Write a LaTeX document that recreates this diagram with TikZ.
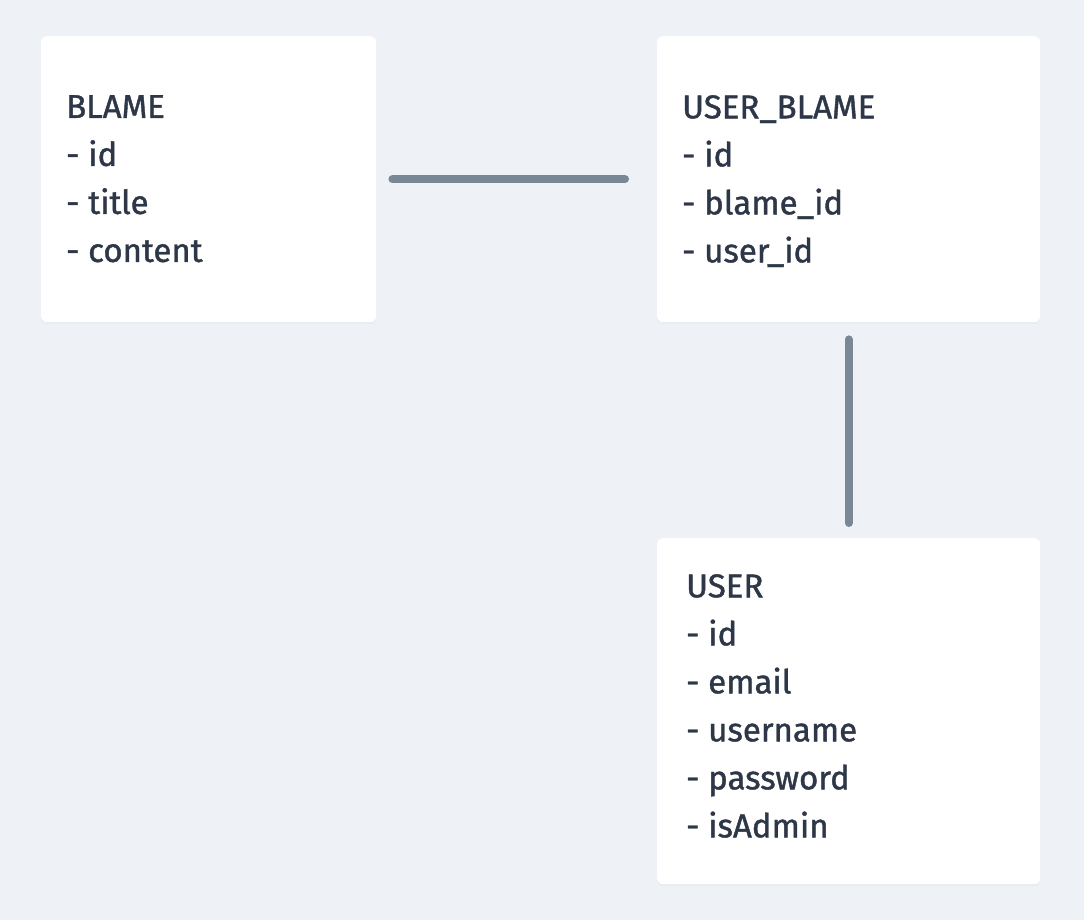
\documentclass[tikz,border=0pt]{standalone}
\usepackage{fontspec}
\setmainfont{Fira Sans}[FakeBold=1.2,UprightFeatures={FakeBold=1.2}]
\usetikzlibrary{%
	calc,%
	shadows%
}
\definecolor{bgcol}{HTML}{EEF2F6}
\definecolor{txtcol}{HTML}{2D3748}
\definecolor{linkcol}{HTML}{7A8794}

\begin{document}
\begin{tikzpicture}[x=1pt,y=-1pt,
		table/.style={fill=white,rounded corners=6pt,anchor=north west,inner sep=0pt,
			drop shadow={opacity=0.05,shadow xshift=0pt,shadow yshift=-2pt}},
		fields/.style={anchor=north west,align=left,inner sep=0pt,text=txtcol,
			font=\fontsize{33}{48}\selectfont},
		link/.style={linkcol,line width=8pt,line cap=round}]
		\fill[bgcol] (0,0) rectangle (1084,920);
		\useasboundingbox (0,0) rectangle (1084,920);
		
		% tables
		\node[table,minimum width=335pt,minimum height=286pt] (blame) at (41,36) {};
		\node[table,minimum width=383pt,minimum height=286pt] (userblame) at (657,36) {};
		\node[table,minimum width=383pt,minimum height=346pt] (user) at (657,538) {};
		
		\node[fields] (blametext) at (66,95) {BLAME\\- id\\- title\\- content};
		\node[fields] (userblametext) at (682,95) {USER\_BLAME\\- id\\- blame\_id\\- user\_id};
		\node[fields] (usertext) at (686,574) {USER\\- id\\- email\\- username\\- password\\- isAdmin};
		
		\draw[link,shorten <=16pt,shorten >=32pt] (blame.east)--(userblame.west);
		\draw[link,shorten <=17pt,shorten >=15pt] (userblame.south)--(user.north);
	\end{tikzpicture}
\end{document}
